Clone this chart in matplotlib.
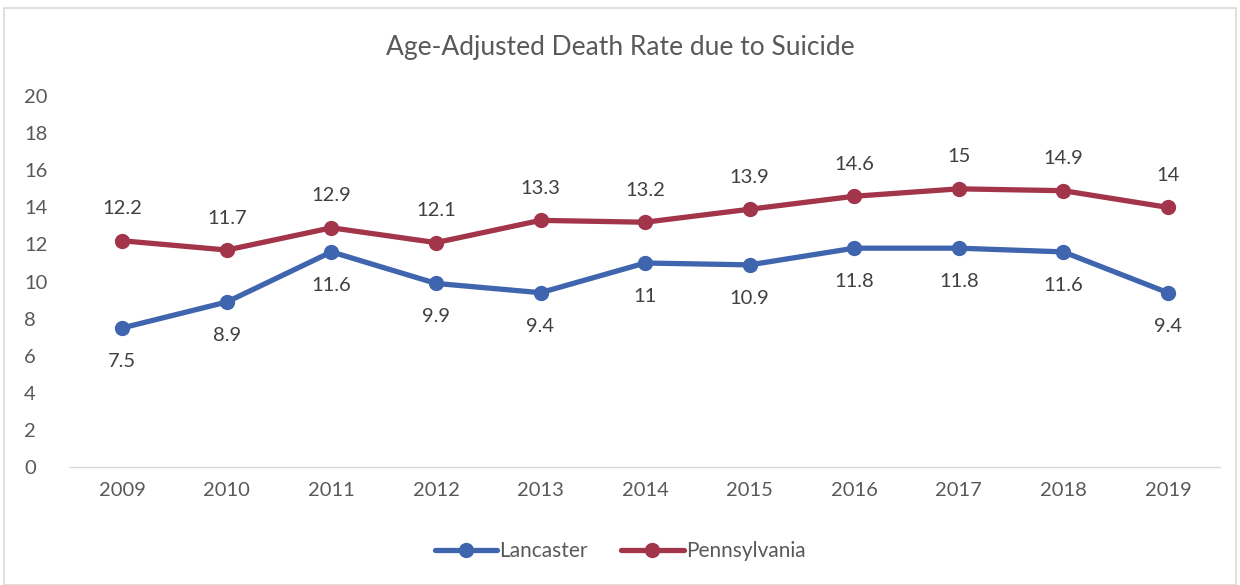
import matplotlib.pyplot as plt
import numpy as np

plt.rcParams['font.family'] = ['Lato', 'DejaVu Sans']

years = [2009, 2010, 2011, 2012, 2013, 2014, 2015, 2016, 2017, 2018, 2019]
lancaster = [7.5, 8.9, 11.6, 9.9, 9.4, 11, 10.9, 11.8, 11.8, 11.6, 9.4]
pennsylvania = [12.2, 11.7, 12.9, 12.1, 13.3, 13.2, 13.9, 14.6, 15, 14.9, 14]

blue = '#3F65AF'
red = '#A3354B'
grey = '#595959'

fig = plt.figure(figsize=(12.4, 5.85), dpi=100)
ax = fig.add_axes([0.0565, 0.2017, 0.9275, 0.634])

x = np.arange(len(years))
ax.plot(x, lancaster, color=blue, lw=3.8, marker='o', ms=10, label='Lancaster',
        solid_capstyle='round')
ax.plot(x, pennsylvania, color=red, lw=3.8, marker='o', ms=10, label='Pennsylvania',
        solid_capstyle='round')

# value labels: Lancaster below, Pennsylvania above
for i in x:
    ax.annotate(f'{lancaster[i]:g}', (i, lancaster[i]), xytext=(0, -24),
                textcoords='offset points', ha='center', va='center',
                fontsize=14.5, color='#404040')
    ax.annotate(f'{pennsylvania[i]:g}', (i, pennsylvania[i]), xytext=(0, 23),
                textcoords='offset points', ha='center', va='center',
                fontsize=14.5, color='#404040')

ax.set_xlim(-0.5, len(years) - 0.5)
ax.set_ylim(0, 20)
ax.set_yticks(range(0, 21, 2))
ax.set_xticks(x)
ax.set_xticklabels([str(y) for y in years])
ax.tick_params(axis='both', length=0, labelsize=14.5, labelcolor=grey)
ax.tick_params(axis='x', pad=11)
ax.tick_params(axis='y', pad=33)
for lbl in ax.get_yticklabels():
    lbl.set_horizontalalignment('left')

for s in ['top', 'right', 'left']:
    ax.spines[s].set_visible(False)
ax.spines['bottom'].set_color('#D9D9D9')
ax.spines['bottom'].set_linewidth(1)

fig.text(0.5, 0.919, 'Age-Adjusted Death Rate due to Suicide', ha='center',
         va='center', fontsize=19, color=grey)

fig.legend(loc='center', bbox_to_anchor=(0.5, 0.058), ncol=2, frameon=False,
           fontsize=15, labelcolor=grey, handlelength=3.0, handletextpad=0.1,
           columnspacing=1.6)

# chart area border
border = plt.Rectangle((0.003, 0.0), 0.994, 0.986, transform=fig.transFigure,
                       fill=False, edgecolor='#D9D9D9', lw=1.2)
fig.add_artist(border)

fig.savefig('out.png', dpi=100)
